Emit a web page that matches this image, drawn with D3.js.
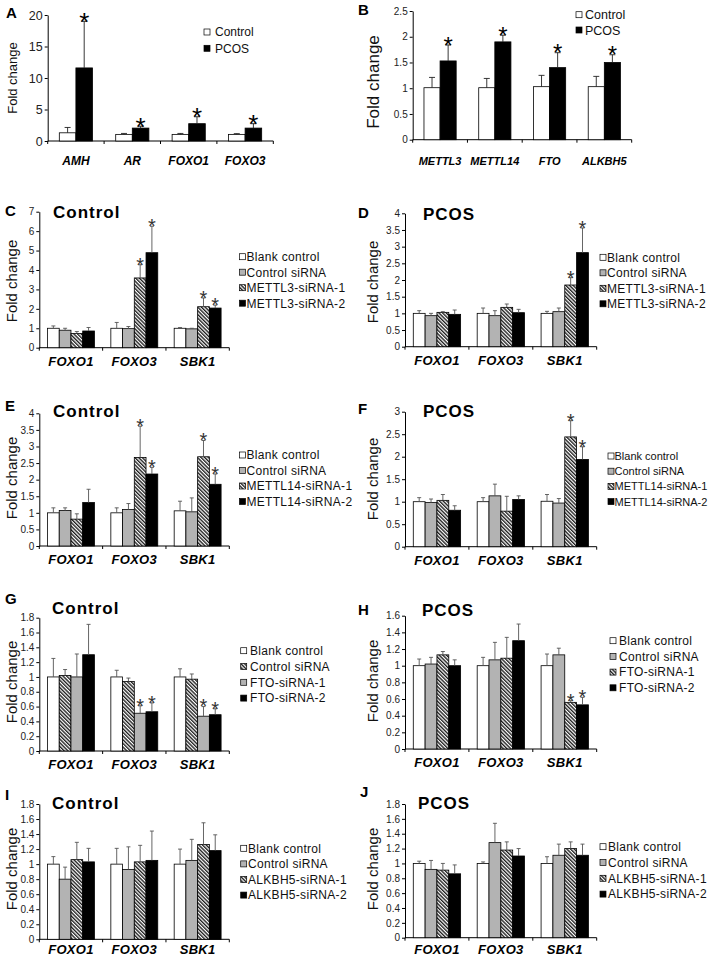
<!DOCTYPE html>
<html>
<head>
<meta charset="utf-8">
<style>
  body { margin: 0; background: #fff; }
  svg { display: block; font-family: "Liberation Sans", Arial, sans-serif; }
</style>
<script src="https://cdnjs.cloudflare.com/ajax/libs/d3/7.8.5/d3.min.js"></script>
</head>
<body>
<svg id="fig" width="709" height="956"></svg>
<script>
// ---- values ----
const groupsAB = ["Control", "PCOS"];

const genesA = ["AMH", "AR", "FOXO1", "FOXO3"];
const ctrlA = [1.3, 1.05, 1.05, 1.05];
const ctrlErrA = [0.85, 0.15, 0.15, 0.12];
const pcosA = [11.6, 2.05, 2.75, 2.05];
const pcosErrA = [7.4, 0.3, 1.1, 0.7];
const ticksA = [0, 5, 10, 15, 20];

const genesB = ["METTL3", "METTL14", "FTO", "ALKBH5"];
const ctrlB = [1.01, 1.01, 1.03, 1.03];
const ctrlErrB = [0.2, 0.18, 0.22, 0.2];
const pcosB = [1.53, 1.9, 1.4, 1.5];
const pcosErrB = [0.31, 0.13, 0.29, 0.15];
const ticksB = [0, 0.5, 1, 1.5, 2, 2.5];

const genes = ["FOXO1", "FOXO3", "SBK1"];

// C / D : METTL3 knockdown (rows = blank, control siRNA, siRNA-1, siRNA-2)
const seriesM3 = ["Blank control", "Control siRNA", "METTL3-siRNA-1", "METTL3-siRNA-2"];
const valC = [[1.0, 1.0, 1.0], [0.9, 0.98, 0.97], [0.73, 3.59, 2.11], [0.86, 4.89, 2.04]];
const errC = [[0.12, 0.3, 0.04], [0.1, 0.11, 0.03], [0.1, 0.68, 0.45], [0.18, 1.36, 0.15]];
const sigC = [[0, 0, 0], [0, 0, 0], [0, 1, 1], [0, 1, 1]];
const ticksC = [0, 1, 2, 3, 4, 5, 6, 7];

const valD = [[1.0, 1.0, 1.0], [0.93, 0.93, 1.05], [1.03, 1.18, 1.85], [0.97, 1.02, 2.82]];
const errD = [[0.08, 0.16, 0.06], [0.07, 0.15, 0.11], [0.02, 0.1, 0.22], [0.13, 0.1, 0.74]];
const sigD = [[0, 0, 0], [0, 0, 0], [0, 0, 1], [0, 0, 1]];
const ticksD = [0, 0.5, 1, 1.5, 2, 2.5, 3, 3.5, 4];

// E / F : METTL14 knockdown
const seriesM14 = ["Blank control", "Control siRNA", "METTL14-siRNA-1", "METTL14-siRNA-2"];
const valE = [[1.0, 1.0, 1.06], [1.07, 1.1, 1.03], [0.81, 2.67, 2.69], [1.31, 2.17, 1.86]];
const errE = [[0.15, 0.15, 0.29], [0.08, 0.18, 0.42], [0.16, 0.94, 0.49], [0.4, 0.2, 0.31]];
const sigE = [[0, 0, 0], [0, 0, 0], [0, 1, 1], [0, 1, 1]];
const ticksE = [0, 0.5, 1, 1.5, 2, 2.5, 3, 3.5, 4];

const valF = [[1.0, 1.0, 1.01], [0.98, 1.13, 0.97], [1.03, 0.79, 2.44], [0.81, 1.05, 1.94]];
const errF = [[0.09, 0.09, 0.15], [0.08, 0.26, 0.1], [0.13, 0.33, 0.36], [0.1, 0.08, 0.28]];
const sigF = [[0, 0, 0], [0, 0, 0], [0, 0, 1], [0, 0, 1]];
const ticksF = [0, 0.5, 1, 1.5, 2, 2.5, 3];

// G / H : FTO knockdown
const seriesFTO = ["Blank control", "Control siRNA", "FTO-siRNA-1", "FTO-siRNA-2"];
const valG = [[1.0, 1.0, 1.0], [1.02, 0.94, 0.97], [1.0, 0.51, 0.47], [1.3, 0.53, 0.49]];
const errG = [[0.25, 0.09, 0.11], [0.08, 0.045, 0.07], [0.31, 0.1, 0.13], [0.41, 0.12, 0.08]];
const sigG = [[0, 0, 0], [0, 0, 0], [0, 1, 1], [0, 1, 1]];
const ticksG = [0, 0.2, 0.4, 0.6, 0.8, 1, 1.2, 1.4, 1.6, 1.8];

const valH = [[1.0, 1.0, 1.0], [1.02, 1.07, 1.13], [1.13, 1.09, 0.56], [1.0, 1.3, 0.53]];
const errH = [[0.08, 0.1, 0.14], [0.08, 0.21, 0.08], [0.04, 0.25, 0.02], [0.07, 0.2, 0.09]];
const sigH = [[0, 0, 0], [0, 0, 0], [0, 0, 1], [0, 0, 1]];
const ticksH = [0, 0.2, 0.4, 0.6, 0.8, 1, 1.2, 1.4, 1.6];

// I / J : ALKBH5 knockdown
const seriesALK = ["Blank control", "Control siRNA", "ALKBH5-siRNA-1", "ALKBH5-siRNA-2"];
const valI = [[1.0, 1.0, 1.0], [0.8, 0.93, 1.05], [1.06, 1.03, 1.26], [1.03, 1.05, 1.18]];
const errI = [[0.1, 0.21, 0.2], [0.16, 0.3, 0.28], [0.23, 0.22, 0.29], [0.18, 0.39, 0.21]];
const ticksI = [0, 0.2, 0.4, 0.6, 0.8, 1, 1.2, 1.4, 1.6, 1.8];

const valJ = [[1.0, 1.0, 1.0], [0.92, 1.28, 1.11], [0.91, 1.18, 1.2], [0.86, 1.1, 1.11]];
const errJ = [[0.03, 0.02, 0.09], [0.12, 0.26, 0.15], [0.09, 0.11, 0.09], [0.12, 0.1, 0.15]];
const ticksJ = [0, 0.2, 0.4, 0.6, 0.8, 1, 1.2, 1.4, 1.6, 1.8];

// ---- drawing ----
const FONT = '"Liberation Sans", Arial, sans-serif';
const svg = d3.select("#fig");

const defs = svg.append("defs");
const pat = defs.append("pattern")
  .attr("id", "hatch")
  .attr("patternUnits", "userSpaceOnUse")
  .attr("width", 2.6).attr("height", 6)
  .attr("patternTransform", "rotate(-45)");
pat.append("rect").attr("width", 2.6).attr("height", 6).attr("fill", "#fff");
pat.append("line").attr("x1", 0.7).attr("x2", 0.7).attr("y1", 0).attr("y2", 6)
  .attr("stroke", "#111").attr("stroke-width", 1.3);

const FILL = { white: "#fff", gray: "#b3b3b3", hatch: "url(#hatch)", black: "#000" };
const noSig4 = [[0, 0, 0], [0, 0, 0], [0, 0, 0], [0, 0, 0]];
const std4 = ["white", "gray", "hatch", "black"];

function panel(p) {
  const g = svg.append("g");
  const y = d3.scaleLinear().domain([0, p.max]).range([p.y0, p.yTop]);
  const x0 = d3.scaleBand().domain(p.cats).range([p.x0, p.x1]);
  const x1 = d3.scaleBand().domain(d3.range(p.vals.length))
    .range([0, x0.bandwidth()]).paddingOuter(0.7);

  // y axis
  const ax = g.append("g")
    .attr("transform", `translate(${p.x0},0)`)
    .call(d3.axisLeft(y).tickValues(p.ticks).tickSize(3).tickSizeOuter(0)
      .tickPadding(2).tickFormat(d => String(d)));
  ax.attr("font-size", p.tickFont).attr("font-family", FONT);
  ax.selectAll("text").attr("fill", "#222");
  ax.selectAll("line, path").attr("stroke", "#000");

  // x axis line, ticks between groups
  g.append("line")
    .attr("x1", p.x0).attr("x2", p.x1).attr("y1", p.y0).attr("y2", p.y0)
    .attr("stroke", "#000");
  const edges = p.cats.map(c => x0(c)).concat([p.x1]);
  g.selectAll(null).data(edges).join("line")
    .attr("x1", d => d).attr("x2", d => d)
    .attr("y1", p.y0).attr("y2", p.y0 + 3)
    .attr("stroke", "#000");
  g.selectAll(null).data(p.cats).join("text")
    .attr("x", d => x0(d) + x0.bandwidth() / 2)
    .attr("y", p.y0 + p.catDy)
    .attr("text-anchor", "middle")
    .attr("font-size", p.catFont)
    .attr("font-weight", "bold")
    .attr("font-style", "italic")
    .attr("letter-spacing", p.catSpacing || 0)
    .text(d => d);

  // bars
  const rows = p.vals.flatMap((vs, s) => vs.map((v, i) => ({
    s, i, v, e: p.errs[s][i], sig: p.sig[s][i]
  })));
  g.selectAll(null).data(rows).join("rect")
    .attr("x", d => x0(p.cats[d.i]) + x1(d.s))
    .attr("y", d => y(d.v))
    .attr("width", x1.bandwidth())
    .attr("height", d => y(0) - y(d.v))
    .attr("fill", d => FILL[p.fills[d.s]])
    .attr("stroke", "#000")
    .attr("stroke-width", 0.8);

  // error bars
  const cx = d => x0(p.cats[d.i]) + x1(d.s) + x1.bandwidth() / 2;
  g.selectAll(null).data(rows).join("line")
    .attr("x1", cx).attr("x2", cx)
    .attr("y1", d => y(d.v)).attr("y2", d => y(d.v + d.e))
    .attr("stroke", p.errColor).attr("stroke-width", 0.9);
  g.selectAll(null).data(rows).join("line")
    .attr("x1", d => cx(d) - p.cap / 2).attr("x2", d => cx(d) + p.cap / 2)
    .attr("y1", d => y(d.v + d.e)).attr("y2", d => y(d.v + d.e))
    .attr("stroke", p.errColor).attr("stroke-width", 0.9);

  // significance stars
  g.selectAll(null).data(rows.filter(d => d.sig)).join("text")
    .attr("x", cx)
    .attr("y", d => y(d.v + d.e) - 1.5 + p.starFont * 0.42)
    .attr("text-anchor", "middle")
    .attr("font-size", p.starFont)
    .attr("fill", p.starColor)
    .text("*");

  // legend
  const L = p.legend;
  const lg = g.selectAll(null).data(p.names).join("g")
    .attr("transform", (d, k) => `translate(0,${L.y + k * L.dy})`);
  lg.append("rect")
    .attr("x", L.sx).attr("y", -L.size / 2)
    .attr("width", L.size).attr("height", L.size)
    .attr("fill", (d, k) => FILL[p.fills[k]])
    .attr("stroke", "#000").attr("stroke-width", 0.7);
  lg.append("text")
    .attr("x", L.tx).attr("y", 0)
    .attr("dy", "0.36em")
    .attr("font-size", L.fs)
    .attr("letter-spacing", L.ls || 0)
    .attr("fill", "#111")
    .text(d => d);

  // y label
  g.append("text")
    .attr("transform", `translate(${p.ylab.x},${p.ylab.y}) rotate(-90)`)
    .attr("text-anchor", "middle")
    .attr("font-size", p.ylab.fs)
    .attr("fill", "#111")
    .text("Fold change");

  // panel letter and title
  g.append("text")
    .attr("x", p.lx).attr("y", p.ly)
    .attr("font-size", 15).attr("font-weight", "bold")
    .text(p.letter);
  if (p.title) {
    g.append("text")
      .attr("x", p.tx).attr("y", p.ty)
      .attr("font-size", 17).attr("font-weight", "bold")
      .attr("letter-spacing", 1)
      .text(p.title);
  }
}

const small = { tickFont: 10, catFont: 13, catDy: 18, catSpacing: 0.3, cap: 4,
  starFont: 20, starColor: "#333", errColor: "#555" };
const legL = (y0) => ({ sx: 239.5, tx: 246.5, y: y0, dy: 15.5, fs: 12, size: 6, ls: 0.3 });
const legR = (y0) => ({ sx: 600, tx: 607, y: y0, dy: 15.5, fs: 12, size: 6, ls: 0.3 });

const panels = [
  { letter: "A", lx: 6, ly: 18, cats: genesA, vals: [ctrlA, pcosA], errs: [ctrlErrA, pcosErrA],
    sig: [[0, 0, 0, 0], [1, 1, 1, 1]], fills: ["white", "black"], names: groupsAB,
    x0: 47.7, x1: 273.3, y0: 141, yTop: 15, max: 20, ticks: ticksA,
    tickFont: 12.5, catFont: 12, catDy: 24, cap: 6, starFont: 26, starColor: "#000", errColor: "#222",
    ylab: { x: 17, y: 78, fs: 13 },
    legend: { sx: 204, tx: 215, y: 32, dy: 16.3, fs: 12, size: 6 } },
  { letter: "B", lx: 358, ly: 15, cats: genesB, vals: [ctrlB, pcosB], errs: [ctrlErrB, pcosErrB],
    sig: [[0, 0, 0, 0], [1, 1, 1, 1]], fills: ["white", "black"], names: groupsAB,
    x0: 412.7, x1: 631.7, y0: 139.7, yTop: 11, max: 2.5, ticks: ticksB,
    tickFont: 10, catFont: 11, catDy: 25, cap: 6, starFont: 24, starColor: "#000", errColor: "#222",
    ylab: { x: 379, y: 82, fs: 17 },
    legend: { sx: 576, tx: 585, y: 14.7, dy: 15.3, fs: 12.5, size: 6 } },
  Object.assign({}, small, { letter: "C", lx: 5, ly: 216, title: "Control", tx: 53, ty: 218.3,
    cats: genes, vals: valC, errs: errC, sig: sigC, fills: std4, names: seriesM3,
    x0: 39.3, x1: 229.3, y0: 347.7, yTop: 211.7, max: 7, ticks: ticksC,
    ylab: { x: 17, y: 281, fs: 15 }, legend: legL(256.7) }),
  Object.assign({}, small, { letter: "D", lx: 358, ly: 218, title: "PCOS", tx: 423, ty: 220,
    cats: genes, vals: valD, errs: errD, sig: sigD, fills: std4, names: seriesM3,
    x0: 405, x1: 596.7, y0: 346.7, yTop: 213.3, max: 4, ticks: ticksD,
    ylab: { x: 378, y: 282, fs: 15 }, legend: legR(257.3) }),
  Object.assign({}, small, { letter: "E", lx: 5, ly: 411, title: "Control", tx: 53, ty: 417.3,
    cats: genes, vals: valE, errs: errE, sig: sigE, fills: std4, names: seriesM14,
    x0: 39.3, x1: 229.3, y0: 546, yTop: 413.3, max: 4, ticks: ticksE,
    ylab: { x: 17, y: 478, fs: 15 }, legend: legL(455) }),
  Object.assign({}, small, { letter: "F", lx: 358, ly: 414, title: "PCOS", tx: 423, ty: 416.7,
    cats: genes, vals: valF, errs: errF, sig: sigF, fills: std4, names: seriesM14,
    x0: 405, x1: 596.7, y0: 546.7, yTop: 411.7, max: 3, ticks: ticksF,
    ylab: { x: 378, y: 479, fs: 15 },
    legend: { sx: 608, tx: 614.5, y: 456, dy: 15.2, fs: 11, size: 6, ls: 0 } }),
  Object.assign({}, small, { letter: "G", lx: 5, ly: 604, title: "Control", tx: 52, ty: 614.3,
    cats: genes, vals: valG, errs: errG, sig: sigG, fills: ["white", "hatch", "gray", "black"], names: seriesFTO,
    x0: 39.3, x1: 229.3, y0: 751, yTop: 617.7, max: 1.8, ticks: ticksG,
    ylab: { x: 17, y: 682, fs: 15 },
    legend: { sx: 240.7, tx: 250, y: 650.7, dy: 15.8, fs: 12, size: 6, ls: 0.3 } }),
  Object.assign({}, small, { letter: "H", lx: 358, ly: 615, title: "PCOS", tx: 422, ty: 615.7,
    cats: genes, vals: valH, errs: errH, sig: sigH, fills: std4, names: seriesFTO,
    x0: 405, x1: 596.7, y0: 749, yTop: 615.7, max: 1.6, ticks: ticksH,
    ylab: { x: 378, y: 681, fs: 15 },
    legend: { sx: 610, tx: 619, y: 640.7, dy: 15.7, fs: 12, size: 6, ls: 0.3 } }),
  Object.assign({}, small, { letter: "I", lx: 5, ly: 800, title: "Control", tx: 52, ty: 809.3,
    cats: genes, vals: valI, errs: errI, sig: noSig4, fills: std4, names: seriesALK,
    x0: 39.3, x1: 229.3, y0: 939.3, yTop: 804, max: 1.8, ticks: ticksI, catDy: 15,
    ylab: { x: 17, y: 869, fs: 15 },
    legend: { sx: 240.7, tx: 248, y: 848.3, dy: 15.6, fs: 12, size: 6, ls: 0.3 } }),
  Object.assign({}, small, { letter: "J", lx: 360, ly: 797, title: "PCOS", tx: 418, ty: 809.3,
    cats: genes, vals: valJ, errs: errJ, sig: noSig4, fills: std4, names: seriesALK,
    x0: 405, x1: 596.7, y0: 937.7, yTop: 804, max: 1.8, ticks: ticksJ, catDy: 16.5,
    ylab: { x: 378, y: 869, fs: 15 },
    legend: { sx: 600, tx: 608, y: 846.7, dy: 15.8, fs: 12, size: 6, ls: 0.3 } })
];

panels.forEach(panel);
</script>
</body>
</html>
